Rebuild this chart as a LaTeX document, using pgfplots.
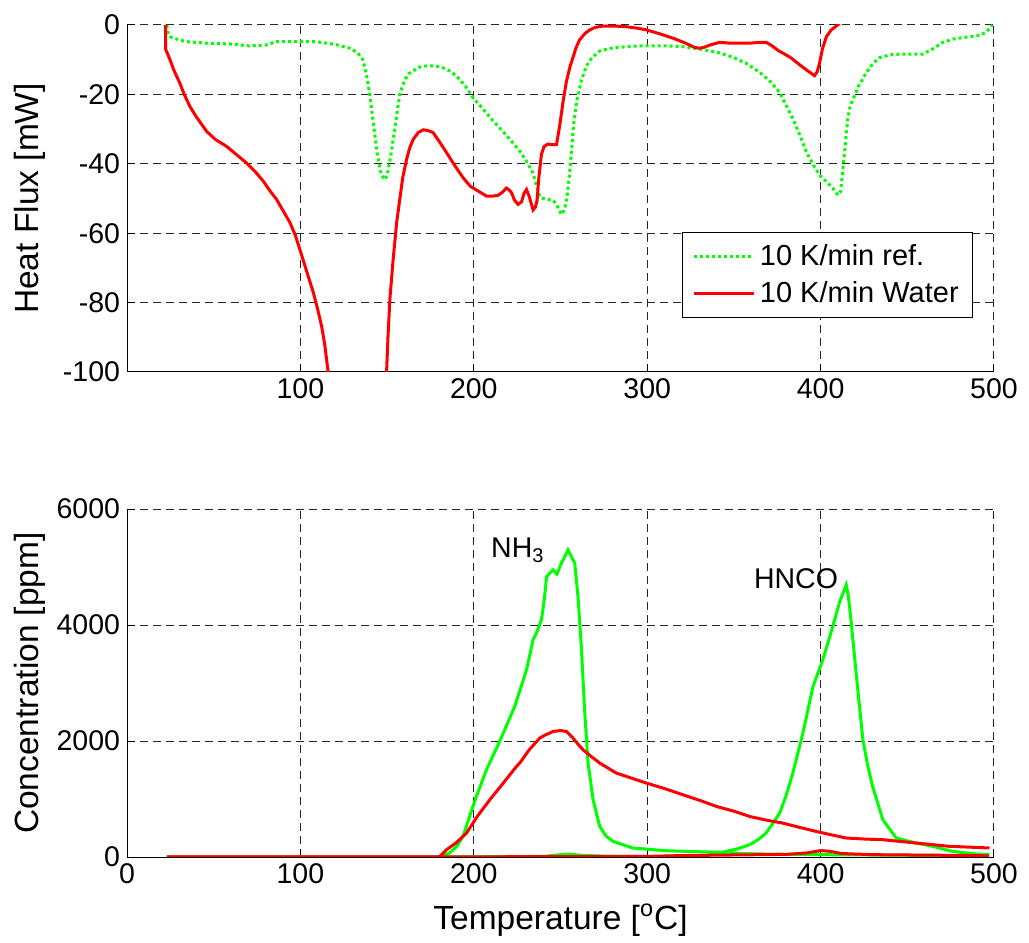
\documentclass[border=0pt]{standalone}
\usepackage{pgfplots}
\pgfplotsset{compat=1.18}
\usepackage{fontspec}
\setmainfont{Liberation Sans}
\definecolor{mgreen}{rgb}{0,1,0}
\definecolor{mred}{rgb}{1,0,0}
\pgfplotsset{
  mystyle/.style={
    scale only axis, width=433.5bp,
    xmin=0, xmax=500,
    axis x line=bottom, axis y line=left,
    axis line style={-, line width=0.5bp, black},
    tick align=inside, major tick length=4bp,
    tick style={line width=0.5bp, black},
    grid=major,
    major grid style={dash pattern=on 4bp off 2.5bp, line width=0.5bp, black!85},
    tick label style={font=\fontsize{14.25bp}{17bp}\selectfont},
    label style={font=\fontsize{16.75bp}{20bp}\selectfont},
    /pgf/number format/assume math mode=true,
    /pgf/number format/set thousands separator={},
    scaled ticks=false,
    clip=true,
  }
}
\begin{document}
\begin{tikzpicture}
\path[use as bounding box] (0,0) rectangle (514.5bp,471.5bp);
% ---------------- top panel ----------------
\begin{axis}[mystyle,
  at={(63.5bp,285.5bp)}, anchor=south west,
  height=173.5bp,
  ymin=-100, ymax=0,
  xtick={100,200,300,400,500},
  ytick={-100,-80,-60,-40,-20,0},
  ylabel={Heat Flux [mW]},
  ylabel style={at={(axis description cs:-0.112,0.5)}, anchor=center},
  legend style={at={(axis description cs:0.976,0.156)}, anchor=south east,
    draw=black, line width=0.5bp, fill=white,
    font=\fontsize{14.5bp}{17bp}\selectfont,
    inner xsep=5bp, inner ysep=4bp, row sep=2.5bp,
    nodes={inner sep=2bp, anchor=west}},
  legend cell align=left,
  legend image code/.code={\draw[#1] (0bp,0bp) -- (30bp,0bp);},
]
\addplot[mgreen, line width=1.5bp, dash pattern=on 1.5bp off 1.5bp] coordinates {
(22.9,0)(23.5,-2)(24.8,-3.4)(30,-4.3)(34.4,-4.8)(45,-5.2)(61,-5.5)(70,-6)(80,-5.8)(86,-4.8)(100,-4.8)(109,-4.8)(120,-5.6)(128.5,-6.7)(133,-8)(136,-10)(138,-14)(140,-20)(142,-28)(144,-36)(146,-42)(148.3,-44.6)(150,-43.5)(152,-38)(153.5,-33)(155.5,-26)(157.3,-20)(160,-16)(162.5,-14)(165,-13.3)(168,-12.2)(172.7,-11.8)(178,-11.8)(182,-12.3)(186,-13.2)(190,-14.7)(195,-17.5)(199.6,-21)(205,-24)(210,-27)(215,-29.7)(220,-32.5)(226.5,-36.3)(230,-39)(234,-42.5)(236,-46)(238,-49.5)(240,-50)(243,-50.3)(245.7,-50.5)(248,-52)(250.5,-54.6)(252,-53.5)(253.4,-51)(255,-44)(256.3,-36.7)(257.5,-29)(259.2,-22.4)(262,-16)(265,-11.8)(268,-9.5)(272.6,-7.5)(278,-6.8)(282,-6.5)(295.7,-6)(311,-6)(320,-6.2)(330,-6.9)(340,-7.8)(349.5,-9.3)(357,-11)(364.8,-13.6)(371,-16.3)(376.4,-19.4)(380,-23)(384,-27)(388,-31.7)(391.8,-36.6)(396,-40.5)(399.4,-43.3)(403,-45)(407,-47)(410,-49)(411.5,-48)(413,-41)(414.5,-33)(415.7,-27)(417,-23.5)(418.6,-21.5)(422,-17.5)(426.3,-13.8)(430,-11.2)(434,-9.4)(440,-8.6)(445.5,-8.4)(452,-8.4)(459,-8.4)(465,-6.8)(470.5,-5)(477,-4)(484,-3.5)(491.6,-3)(495,-2.2)(497.4,-1)(499,0)
};
\addlegendentry{10 K/min ref.}
\addplot[mred, line width=1.5bp, unbounded coords=jump] coordinates {
(22.3,0)(22.3,-7)(24.8,-10)(27,-13)(30.5,-16.8)(33,-20)(36.3,-23.5)(40,-26.5)(46,-30.7)(51,-33)(57.5,-35)(63,-37.3)(69,-39.8)(74,-42.3)(78.6,-45)(82,-47.5)(86.3,-50.3)(90,-53.5)(94,-57)(97,-60.5)(99.7,-64.7)(103,-70)(107.4,-77)(110,-82)(112.2,-86.7)(114,-92)(116,-100)(117,-106)(133,nan)(149.3,-106)(149.7,-100)(150.5,-90)(151.6,-79)(153.5,-67.5)(155.5,-57)(157.3,-50.3)(159,-44)(161.2,-38.8)(163,-35.5)(165,-33)(168,-31)(170.8,-30.2)(173.5,-30.4)(176.5,-31)(180,-33.5)(184.3,-36.8)(189,-40.5)(193.8,-44)(198,-46.5)(203,-48)(207.3,-49.3)(211,-49.3)(214,-49.1)(216.5,-48.2)(218.8,-47)(220.3,-47.5)(221.7,-48.3)(223.5,-50.5)(225.5,-51.7)(227.5,-51)(229,-48.5)(230.4,-47.4)(232,-49.5)(234.2,-53.3)(235.5,-52.5)(236.5,-50.5)(237.5,-44)(239,-37.3)(240.5,-35)(242.8,-34.3)(245,-34.5)(247.7,-34.5)(249.6,-28.8)(251.5,-22)(253.4,-16.3)(255.5,-12)(257.3,-9.2)(259,-6.5)(261,-4.3)(264,-2.5)(266.9,-1.4)(270,-0.7)(274.5,-0.3)(281,-0.3)(288,-0.5)(294,-0.9)(299.5,-1.4)(307,-2.5)(314.9,-3.8)(322,-5.2)(327,-6.4)(330,-6.7)(333,-6.4)(336,-5.8)(341.8,-5)(347,-5.2)(353.3,-5.2)(360,-5.2)(365,-5)(368.7,-5)(372,-6)(376,-7.5)(378.3,-8.1)(383,-9.5)(388,-11.5)(392,-13)(396.5,-14.6)(398,-13.5)(399.4,-11)(401,-7)(403.3,-3.4)(406,-1.5)(409,-0.3)(411,0.5)
};
\addlegendentry{10 K/min Water}
\end{axis}
% ---------------- bottom panel ----------------
\begin{axis}[mystyle,
  at={(63.5bp,43bp)}, anchor=south west,
  height=174bp,
  ymin=0, ymax=6000,
  xtick={0,100,200,300,400,500},
  ytick={0,2000,4000,6000},
  xlabel={Temperature [\textsuperscript{o}C]},
  xlabel style={at={(axis description cs:0.5,-0.181)}, anchor=center},
  ylabel={Concentration [ppm]},
  ylabel style={at={(axis description cs:-0.112,0.5)}, anchor=center},
]
% ref NH3
\addplot[mgreen, line width=1.5bp] coordinates {
(23,0)(100,0)(178,0)(182,15)(186,69)(190,180)(193.8,355)(197,650)(201.5,1044)(207.3,1504)(215,2000)(223.6,2595)(230.4,3227)(234.2,3744)(236.1,3860)(239,4089)(240.5,4400)(242,4835)(245.7,4950)(248,4880)(250.5,5066)(252,5150)(254.3,5295)(256,5200)(258.2,5066)(260.1,4490)(262,3629)(264,2481)(265.9,1620)(268.8,987)(272.6,527)(276,370)(280.3,269)(291.8,155)(311,108)(330,90)(345,80)(355,60)(370,50)(400,40)(450,30)(497,20)
};
% ref HNCO
\addplot[mgreen, line width=1.5bp] coordinates {
(23,0)(180,0)(240,10)(250,40)(255,50)(262,30)(275,15)(300,10)(330,20)(340,50)(345,95)(352,140)(359,212)(364,300)(368.6,413)(372,560)(376.4,758)(380,1050)(384,1447)(389.8,2136)(395.6,2940)(401.3,3400)(407,3973)(411,4400)(414.8,4692)(416,4500)(417.5,4089)(420.5,3170)(424.4,2021)(427,1600)(430,1217)(435.9,643)(443.6,327)(455,241)(464.7,184)(476,97)(490,50)(497.4,40)
};
% water NH3
\addplot[mred, line width=1.5bp] coordinates {
(23,0)(180,0)(184.3,126)(190,250)(195.8,413)(202,700)(209.2,987)(215,1200)(224.6,1561)(226.5,1620)(232,1850)(238,2050)(241,2100)(245.7,2164)(250,2180)(253.4,2164)(257.2,2050)(260,1950)(263,1849)(267,1750)(272.6,1620)(282.2,1447)(290,1370)(299.5,1275)(310,1180)(320.6,1073)(330,980)(339.9,872)(350,790)(359,700)(368,640)(378,586)(388,510)(397.4,441)(405,390)(414.8,327)(425,310)(435.9,298)(455,241)(474.4,184)(490,165)(497.4,155)
};
% water HNCO
\addplot[mred, line width=1.5bp] coordinates {
(23,0)(250,5)(300,10)(320,25)(350,35)(380,45)(392,70)(400,110)(405,100)(412,60)(430,40)(470,30)(497,20)
};
\node[anchor=base west, font=\fontsize{14.25bp}{17bp}\selectfont] at (axis cs:206,5157) {NH\textsubscript{3}};
\node[anchor=base west, font=\fontsize{14.25bp}{17bp}\selectfont, inner sep=0pt] at (axis cs:361.4,4635) {HNCO};
\end{axis}
\end{tikzpicture}
\end{document}
